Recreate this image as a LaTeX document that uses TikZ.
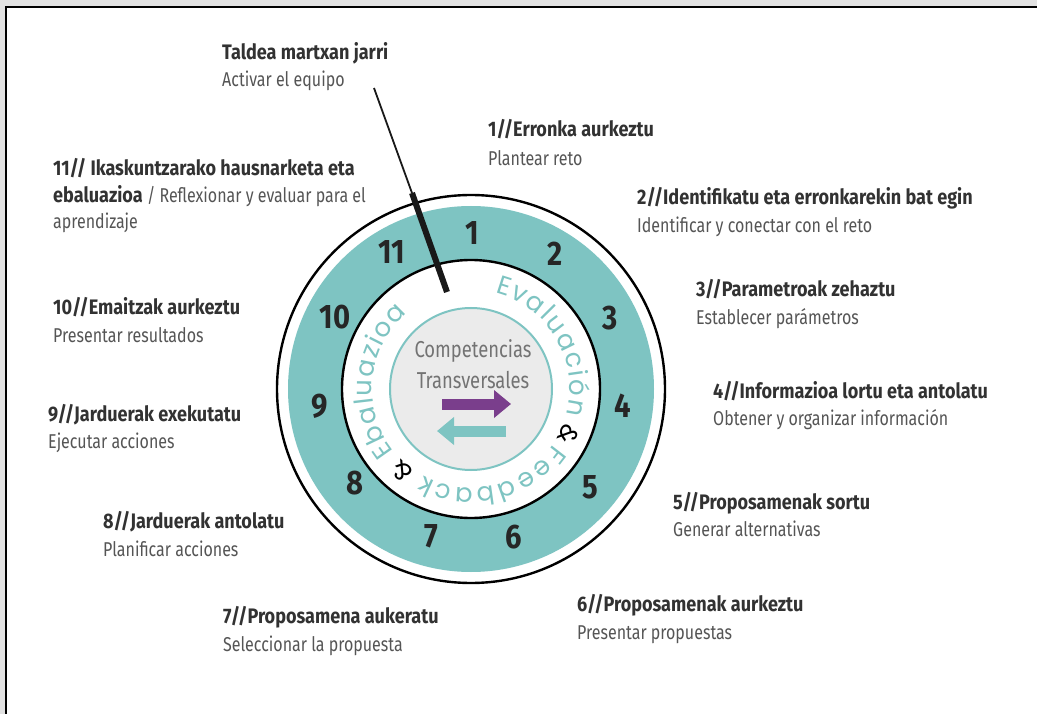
\documentclass[tikz,border=0pt]{standalone}
\usepackage{fontspec}
\setmainfont{Fira Sans}[FakeStretch=0.80, BoldFeatures={FakeStretch=0.86}]
\newfontfamily\ringfont{Poppins}
\usetikzlibrary{arrows.meta,decorations.text,calc}

\definecolor{ringteal}{RGB}{126,196,194}
\definecolor{coregray}{RGB}{235,235,235}
\definecolor{framegray}{RGB}{226,226,226}
\definecolor{headgray}{RGB}{50,50,50}
\definecolor{subgray}{RGB}{85,85,85}
\definecolor{coretext}{RGB}{115,115,115}
\definecolor{arrowpurple}{RGB}{122,62,140}

\tikzset{
  head/.style={anchor=base west, inner sep=0pt, text=headgray, font=\bfseries\fontsize{21}{25}\selectfont},
  sub/.style={anchor=base west, inner sep=0pt, text=subgray, font=\fontsize{20}{24}\selectfont},
  stepnum/.style={inner sep=0pt, text=black!85, font=\bfseries\fontsize{34}{34}\selectfont},
  ringword/.style={decorate, decoration={text along path, text align={fit to path}, text color=ringteal}},
  amp/.style={inner sep=0pt, font=\ringfont\fontsize{25}{25}\selectfont},
}

\begin{document}
\begin{tikzpicture}[x=1pt, y=1pt]
    \useasboundingbox (0,0) rectangle (1037,-714);
    % frame
    \fill[framegray] (0,0) rectangle (1037,-714);
    \draw[fill=white, line width=1.2pt] (6,-7) rectangle (1045,-720);

    \coordinate (c) at (471,-389);

    % rings
    \draw[line width=2.4pt] (c) circle[radius=194];
    \fill[ringteal] (c) circle[radius=183];
    \draw[fill=white, line width=2.4pt] (c) circle[radius=129];
    \draw[ringteal, fill=coregray, line width=2pt] (c) circle[radius=81];

    % step numbers
    \foreach \n/\x/\y in {1/472/233, 2/555/254, 3/610/318, 4/623/406, 5/590/487, 6/514/537,
                          7/431/536, 8/355/483, 9/320/406, 10/335/317, 11/392/252}
        \node[stepnum] (n\n) at (\x,-\y) {\n};

    % text round the core
    \path[ringword, decoration={text={|\ringfont\fontsize{26}{26}\selectfont|Evaluación}}]
        (c) ++(76:99) arc[start angle=76, end angle=-15, radius=99];
    \path[ringword, decoration={text={|\ringfont\fontsize{26}{26}\selectfont|Feedback}}]
        (c) ++(-34:99) arc[start angle=-34, end angle=-119, radius=99];
    \path[ringword, decoration={text={|\ringfont\fontsize{26}{26}\selectfont|Ebaluazioa}}]
        (c) ++(219:99) arc[start angle=219, end angle=130, radius=99];
    \node[amp, rotate=-115] (amp1) at ($(c)+(-25:108)$) {\&};
    \node[amp, rotate=-220] (amp2) at ($(c)+(-130:107)$) {\&};

    % core
    \node[text=coretext, font=\fontsize{23}{31}\selectfont, align=center] (core) at (473,-364) {Competencias\\Transversales};
    \coordinate (pa) at (442,-404);
    \coordinate (pb) at (511,-404);
    \coordinate (ta) at (506,-431);
    \coordinate (tb) at (437,-431);
    \draw[arrowpurple, line width=11pt, -{Triangle[length=17pt, width=27pt]}] (pa) -- (pb);
    \draw[ringteal, line width=11pt, -{Triangle[length=17pt, width=27pt]}] (ta) -- (tb);

    % needle
    \coordinate (ntop) at (374,-88);
    \coordinate (nrim) at (412,-193);
    \coordinate (ntip) at (447,-292);
    \draw[black!90, line width=1.8pt] (ntop) -- (nrim);
    \draw[black!90, line width=6pt] (nrim) -- (ntip);

    % labels
    \node[head] (t0) at (222,-60) {Taldea martxan jarri};
    \node[sub] (s0) at (222,-87) {Activar el equipo};
    \node[head] (t1) at (488,-137) {1//Erronka aurkeztu};
    \node[sub] (s1) at (488,-166) {Plantear reto};
    \node[head] (t2) at (637,-205) {2//Identifikatu eta erronkarekin bat egin};
    \node[sub] (s2) at (637,-233) {Identificar y conectar con el reto};
    \node[head] (t3) at (696,-297) {3//Parametroak zehaztu};
    \node[sub] (s3) at (696,-325) {Establecer parámetros};
    \node[head] (t4) at (713,-398) {4//Informazioa lortu eta antolatu};
    \node[sub] (s4) at (713,-425) {Obtener y organizar información};
    \node[head] (t5) at (673,-509) {5//Proposamenak sortu};
    \node[sub] (s5) at (673,-536) {Generar alternativas};
    \node[head] (t6) at (577,-611) {6//Proposamenak aurkeztu};
    \node[sub] (s6) at (577,-639) {Presentar propuestas};
    \node[head] (t7) at (223,-623) {7//Proposamena aukeratu};
    \node[sub] (s7) at (223,-651) {Seleccionar la propuesta};
    \node[head] (t8) at (103,-528) {8//Jarduerak antolatu};
    \node[sub] (s8) at (103,-556) {Planificar acciones};
    \node[head] (t9) at (48,-421) {9//Jarduerak exekutatu};
    \node[sub] (s9) at (48,-448) {Ejecutar acciones};
    \node[head] (t10) at (53,-315) {10//Emaitzak aurkeztu};
    \node[sub] (s10) at (53,-342) {Presentar resultados};
    \node[head] (t11) at (53,-176) {11// Ikaskuntzarako hausnarketa eta};
    \node[head] (t11b) at (53,-203) {ebaluazioa {\mdseries\color{subgray}\fontsize{20}{24}\selectfont / Reflexionar y evaluar para el}};
    \node[sub] (s11) at (53,-229) {aprendizaje};
\end{tikzpicture}
\end{document}
